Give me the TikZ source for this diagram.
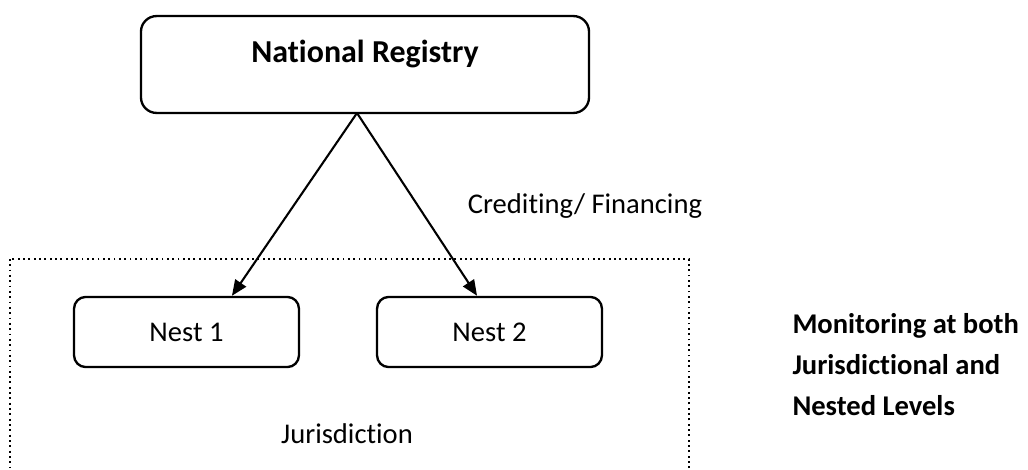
\documentclass[tikz,border=0pt]{standalone}
\usepackage{fontspec}
\setmainfont{Carlito}[Ligatures=NoCommon]
\usetikzlibrary{arrows.meta, positioning}

\begin{document}
\begin{tikzpicture}[x=0.385pt, y=-0.385pt, font=\fontsize{11}{13}\selectfont,
    nest/.style={rectangle, draw, rounded corners=4.5pt, line width=0.9pt, inner sep=0pt, minimum width=86.6pt, minimum height=27pt},
    registry/.style={nest, rounded corners=6pt, minimum width=172.5pt, minimum height=37.3pt},
    area/.style={draw, line width=0.7pt, dash pattern=on 0.7pt off 1.35pt},
    arrow/.style={-{Triangle[length=6pt, width=5pt]}, line width=0.8pt}]

    \clip (0,0) rectangle (1028,469);

    \node[registry] (reg) at (365,64.5) {};
    \node[font=\bfseries\fontsize{12.3}{15}\selectfont] (regtitle) at (365,54) {National Registry};

    % jurisdiction area, its lower edge runs off the page
    \draw[area] (10,259) rectangle (689,490);

    \node[nest] (nest1) at (186.5,332) {Nest 1};
    \node[nest] (nest2) at (489.5,332) {Nest 2};

    \coordinate (fork) at (357,113);
    \draw[arrow] (fork) -- ([xshift=17.5pt]nest1.north);
    \draw[arrow] (fork) -- ([xshift=-4.8pt]nest2.north);

    \node (credit) at (585,206) {Crediting/ Financing};
    \node (juris) at (347,434) {Jurisdiction};

    \node[anchor=north west, inner sep=0pt, align=left, font=\bfseries\fontsize{11}{15.8}\selectfont] (monitor) at (792,313)
        {Monitoring at both\\Jurisdictional and\\Nested Levels};
\end{tikzpicture}
\end{document}
